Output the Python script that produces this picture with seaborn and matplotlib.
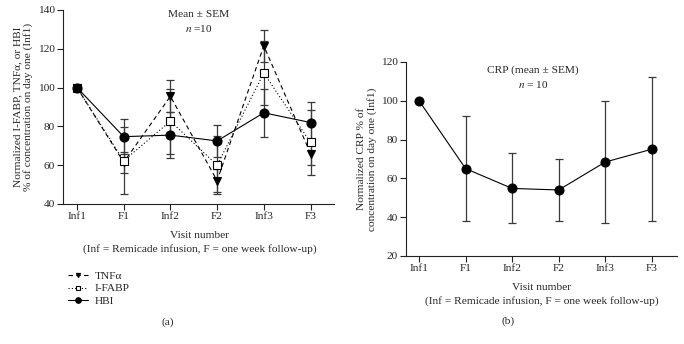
import numpy as np
import pandas as pd
import matplotlib
matplotlib.use('Agg')
import matplotlib.pyplot as plt
import seaborn as sns

# Data (mean +/- SEM, normalized to Inf1)
visits = ['Inf1', 'F1', 'Inf2', 'F2', 'Inf3', 'F3']

tnf_mean = [100, 61.5, 95.5, 52, 121.5, 66]
tnf_sem = [0, 5.5, 8.2, 6, 8.2, 5.9]
ifabp_mean = [100, 62.3, 82.7, 60, 107.5, 71.7]
ifabp_sem = [0, 17.2, 16.8, 15, 16.5, 16.5]
hbi_mean = [100, 74.7, 75.5, 72.5, 87, 82]
hbi_sem = [0, 9, 12, 8.3, 12.5, 10.7]

crp_mean = [100, 65, 54.8, 54, 68.4, 75]
crp_sem = [0, 27, 18, 16, 31.5, 37]

sns.set_theme(style='ticks')
plt.rcParams['font.family'] = ['Liberation Serif', 'DejaVu Serif']
plt.rcParams['mathtext.fontset'] = 'stix'

FS = 8.2
fig = plt.figure(figsize=(6.84, 3.44), dpi=100)
ax1 = fig.add_axes([0.0921, 0.407, 0.396, 0.564])
ax2 = fig.add_axes([0.5936, 0.256, 0.396, 0.564])

x = np.arange(len(visits))
err_color = '#3a3a3a'

# Panel (a)
series = [
    ('TNFα', tnf_mean, tnf_sem, 'v', (0, (4, 3)), 'black', 5.5),
    ('I-FABP', ifabp_mean, ifabp_sem, 's', (0, (1, 2)), 'white', 5.5),
    ('HBI', hbi_mean, hbi_sem, 'o', '-', 'black', 6.5),
]
rows = []
for name, m, s, *_ in series:
    for v, mv in zip(x, m):
        rows.append({'visit': v, 'value': mv, 'series': name})
df = pd.DataFrame(rows)

handles = []
for name, m, s, mk, ls, fc, ms in series:
    ax1.errorbar(x[1:], m[1:], yerr=s[1:], fmt='none', ecolor=err_color,
                 elinewidth=0.9, capsize=3, capthick=0.9, zorder=2)
for name, m, s, mk, ls, fc, ms in series:
    sub = df[df['series'] == name]
    sns.lineplot(data=sub, x='visit', y='value', ax=ax1, color='black',
                 linestyle=ls, linewidth=0.8, marker=mk, markersize=ms,
                 markerfacecolor=fc, markeredgecolor='black', markeredgewidth=0.8,
                 legend=False, zorder=3)
    h, = ax1.plot([], [], color='black', linestyle=ls, linewidth=0.8, marker=mk,
                  markersize=ms - 2.5, markerfacecolor=fc, markeredgecolor='black',
                  markeredgewidth=0.8, label=name)
    handles.append(h)

ax1.set_xlim(-0.3, 5.5)
ax1.set_ylim(40, 140)
ax1.set_yticks([40, 60, 80, 100, 120, 140])
ax1.text(2.6, 137.5, 'Mean ± SEM', ha='center', va='center', fontsize=FS)
ax1.text(2.6, 130.5, '$n$ =10', ha='center', va='center', fontsize=FS)
ax1.set_ylabel('Normalized I-FABP, TNFα, or HBI\n% of concentration on day one (Inf1)',
               fontsize=FS, linespacing=1.1, labelpad=3)

fig.text(200 / 684, 1 - 235 / 344, 'Visit number', ha='center', va='center', fontsize=FS)
fig.text(200 / 684, 1 - 249 / 344, '(Inf = Remicade infusion, F = one week follow-up)',
         ha='center', va='center', fontsize=FS)
fig.legend(handles=handles, loc='upper left', bbox_to_anchor=(62 / 684, 1 - 265 / 344),
           frameon=False, fontsize=FS, handlelength=1.8, handletextpad=0.6,
           labelspacing=0.25, borderpad=0)
fig.text(168 / 684, 1 - 322 / 344, '(a)', ha='center', va='center', fontsize=FS)

# Panel (b)
crp_df = pd.DataFrame({'visit': x, 'value': crp_mean})
ax2.errorbar(x[1:], crp_mean[1:], yerr=crp_sem[1:], fmt='none', ecolor=err_color,
             elinewidth=0.9, capsize=3, capthick=0.9, zorder=2)
sns.lineplot(data=crp_df, x='visit', y='value', ax=ax2, color='black', linewidth=0.8,
             marker='o', markersize=6.5, markerfacecolor='black',
             markeredgecolor='black', zorder=3)
ax2.set_xlim(-0.28, 5.54)
ax2.set_ylim(20, 120)
ax2.set_yticks([20, 40, 60, 80, 100, 120])
ax2.text(2.45, 115.5, 'CRP (mean ± SEM)', ha='center', va='center', fontsize=FS)
ax2.text(2.45, 108.5, '$n$ = 10', ha='center', va='center', fontsize=FS)
ax2.set_ylabel('Normalized CRP % of\nconcentration on day one (Inf1)',
               fontsize=FS, linespacing=1.1, labelpad=3)
fig.text(542 / 684, 1 - 287 / 344, 'Visit number', ha='center', va='center', fontsize=FS)
fig.text(542 / 684, 1 - 301 / 344, '(Inf = Remicade infusion, F = one week follow-up)',
         ha='center', va='center', fontsize=FS)
fig.text(508 / 684, 1 - 321 / 344, '(b)', ha='center', va='center', fontsize=FS)

for ax in (ax1, ax2):
    ax.set_xticks(x)
    ax.set_xticklabels(visits)
    ax.set_xlabel('')
    ax.tick_params(labelsize=FS, length=4, width=0.8, color='#222222', pad=2)
    for sp in ('top', 'right'):
        ax.spines[sp].set_visible(False)
    for sp in ('left', 'bottom'):
        ax.spines[sp].set_linewidth(0.8)
        ax.spines[sp].set_color('#222222')

fig.savefig('out.png', dpi=100)
